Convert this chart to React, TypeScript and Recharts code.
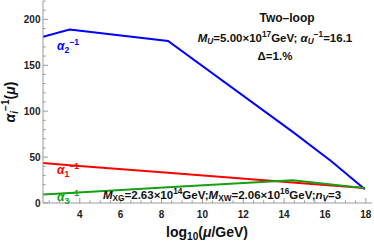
import React from 'react';
import { Line, LineChart, XAxis, YAxis } from 'recharts';

// log10(mu/GeV) breakpoints and the inverse couplings
const logMu = [2.2, 3.5, 8.32, 14.42, 16.31, 17.95];
const alpha1Inv = [43.5, 41.2, 32.9, 22.3, 19.1, 16.4];
const alpha2Inv = [181, 189, 176.5, 77.5, 45.5, 15];
const alpha3Inv = [9.3, 11.0, 17.2, 24.8, 20.2, 16.2];

const xTicks = [
  2.5, 3, 3.5, 4, 4.5, 5, 5.5, 6, 6.5, 7, 7.5, 8, 8.5, 9, 9.5, 10, 10.5, 11, 11.5, 12, 12.5, 13, 13.5, 14,
  14.5, 15, 15.5, 16, 16.5, 17, 17.5, 18,
];
const xMajor = [4, 6, 8, 10, 12, 14, 16, 18];
const yTicks = [0, 10, 20, 30, 40, 50, 60, 70, 80, 90, 100, 110, 120, 130, 140, 150, 160, 170, 180, 190, 200, 210, 220];
const yMajor = [0, 50, 100, 150, 200];

const W = 374;
const H = 243;
const TOP = 1;
const BOTTOM = 203;
const LEFT = 43;
const RIGHT = 372;
const FRAME = '#9a9a9a';
const FONT = '"Liberation Sans", Arial, sans-serif';

const chartData = logMu.map((x, i) => ({ x, a1: alpha1Inv[i], a2: alpha2Inv[i], a3: alpha3Inv[i] }));

function BottomTick({ x, payload }: any) {
  const major = xMajor.includes(payload.value);
  const len = major ? 5 : 2.7;
  return (
    <g>
      <line x1={x} x2={x} y1={BOTTOM} y2={BOTTOM - len} stroke={FRAME} strokeWidth={1} />
      {major && (
        <text x={x} y={217.5} textAnchor="middle" fontSize={10} fontWeight="bold" fill="#222" fontFamily={FONT}>
          {payload.value}
        </text>
      )}
    </g>
  );
}

function TopTick({ x, payload }: any) {
  const len = xMajor.includes(payload.value) ? 5 : 2.7;
  return <line x1={x} x2={x} y1={TOP} y2={TOP + len} stroke={FRAME} strokeWidth={1} />;
}

function LeftTick({ y, payload }: any) {
  const major = yMajor.includes(payload.value);
  const len = major ? 5 : 2.7;
  return (
    <g>
      <line x1={LEFT} x2={LEFT + len} y1={y} y2={y} stroke={FRAME} strokeWidth={1} />
      {major && (
        <text x={40.5} y={y + 3.6} textAnchor="end" fontSize={10} fontWeight="bold" fill="#222" fontFamily={FONT}>
          {payload.value}
        </text>
      )}
    </g>
  );
}

function RightTick({ y, payload }: any) {
  const len = yMajor.includes(payload.value) ? 5 : 2.7;
  return <line x1={RIGHT} x2={RIGHT - len} y1={y} y2={y} stroke={FRAME} strokeWidth={1} />;
}

const sup: React.CSSProperties = { fontSize: '0.72em', position: 'relative', top: '-0.55em' };
const sub: React.CSSProperties = { fontSize: '0.72em', position: 'relative', top: '0.3em' };

function Txt({ left, top, color = '#111', size = 12, center = false, children }: any) {
  return (
    <div
      style={{
        position: 'absolute',
        left,
        top,
        transform: center ? 'translateX(-50%)' : undefined,
        whiteSpace: 'nowrap',
        fontFamily: FONT,
        fontWeight: 'bold',
        fontSize: size,
        lineHeight: 1,
        color,
      }}
    >
      {children}
    </div>
  );
}

export default function App() {
  return (
    <div style={{ position: 'absolute', left: 0, top: 0, width: W, height: H, background: '#fff' }}>
      <LineChart width={W} height={H} data={chartData} margin={{ top: TOP, right: W - RIGHT, bottom: 0, left: 0 }}>
        <XAxis
          type="number"
          dataKey="x"
          domain={[2.2, 18.3]}
          ticks={xTicks}
          interval={0}
          allowDataOverflow
          height={H - BOTTOM}
          tickLine={false}
          axisLine={{ stroke: FRAME }}
          tick={<BottomTick />}
        />
        <XAxis
          xAxisId="top"
          orientation="top"
          type="number"
          dataKey="x"
          domain={[2.2, 18.3]}
          ticks={xTicks}
          interval={0}
          allowDataOverflow
          height={0}
          tickLine={false}
          axisLine={{ stroke: FRAME }}
          tick={<TopTick />}
        />
        <YAxis
          type="number"
          domain={[0, 220]}
          ticks={yTicks}
          interval={0}
          allowDataOverflow
          width={LEFT}
          tickLine={false}
          axisLine={{ stroke: FRAME }}
          tick={<LeftTick />}
        />
        <YAxis
          yAxisId="right"
          orientation="right"
          type="number"
          domain={[0, 220]}
          ticks={yTicks}
          interval={0}
          allowDataOverflow
          width={0}
          tickLine={false}
          axisLine={{ stroke: FRAME }}
          tick={<RightTick />}
        />
        <Line type="linear" dataKey="a2" stroke="#0000ff" strokeWidth={2} dot={false} isAnimationActive={false} />
        <Line type="linear" dataKey="a1" stroke="#ff0000" strokeWidth={2} dot={false} isAnimationActive={false} />
        <Line type="linear" dataKey="a3" stroke="#13a013" strokeWidth={2} dot={false} isAnimationActive={false} />
      </LineChart>

      <Txt left={287} top={12} center>Two–loop</Txt>
      <Txt left={275} top={33} size={11.5} center>
        <i>M</i>
        <span style={sub}><i>U</i></span>=5.00×10<span style={sup}>17</span>GeV; <i>α</i>
        <span style={sub}><i>U</i></span>
        <span style={sup}>−1</span>=16.1
      </Txt>
      <Txt left={275} top={51} size={11.5} center>Δ=1.%</Txt>

      <Txt left={57} top={40} color="#0000ff" size={12}>
        <i>α</i><span style={sub}>2</span><span style={sup}>−1</span>
      </Txt>
      <Txt left={57} top={164} color="#ff0000" size={12}>
        <i>α</i><span style={sub}>1</span><span style={sup}>−1</span>
      </Txt>
      <Txt left={57} top={191} color="#13a013" size={12}>
        <i>α</i><span style={sub}>3</span><span style={sup}>−1</span>
      </Txt>
      <Txt left={103} top={190} size={11.5}>
        <i>M</i><span style={sub}>XG</span>=2.63×10<span style={sup}>14</span>GeV;<i>M</i>
        <span style={sub}>XW</span>=2.06×10<span style={sup}>16</span>GeV;<i>n</i>
        <span style={sub}><i>V</i></span>=3
      </Txt>

      <Txt left={207} top={225} size={14} center>
        log<span style={sub}>10</span>(<i>μ</i>/GeV)
      </Txt>
      <div
        style={{
          position: 'absolute',
          left: 10,
          top: 102,
          transform: 'translate(-50%, -50%) rotate(-90deg)',
          whiteSpace: 'nowrap',
          fontFamily: FONT,
          fontWeight: 'bold',
          fontSize: 14,
          lineHeight: 1,
          color: '#111',
        }}
      >
        <i>α</i>
        <span style={sub}><i>i</i></span>
        <span style={sup}>−1</span>(<i>μ</i>)
      </div>
    </div>
  );
}
